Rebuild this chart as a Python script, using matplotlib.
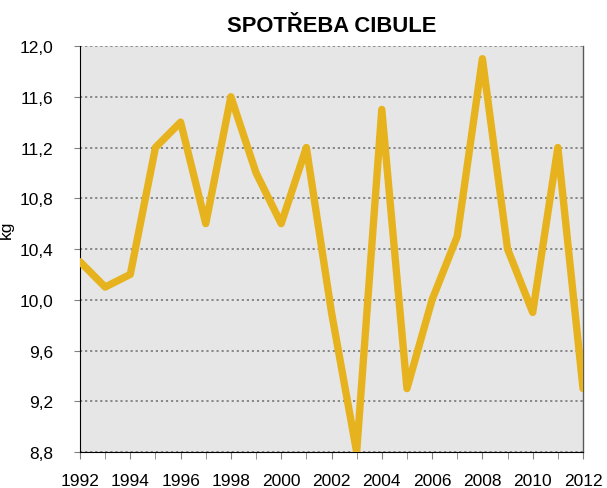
import matplotlib
matplotlib.use("Agg")
import matplotlib.pyplot as plt
from matplotlib.ticker import FixedLocator, FuncFormatter

years = list(range(1992, 2013))
values = [10.3, 10.1, 10.2, 11.2, 11.4, 10.6, 11.6, 11.0, 10.6, 11.2,
          9.9, 8.8, 11.5, 9.3, 10.0, 10.5, 11.9, 10.4, 9.9, 11.2, 9.3]
yticks = [8.8, 9.2, 9.6, 10.0, 10.4, 10.8, 11.2, 11.6, 12.0]
xticks = list(range(1992, 2013, 2))
title = "SPOTŘEBA CIBULE"
ylabel = "kg"

plt.rcParams['font.family'] = ['Liberation Sans', 'DejaVu Sans']

fig = plt.figure(figsize=(6.07, 4.89), dpi=100)
ax = fig.add_axes([80/607, 1-453/489, (583-80)/607, (453-47)/489])
ax.set_facecolor('#E6E6E6')
ax.plot(years, values, color='#E6B31E', linewidth=5.3, solid_joinstyle='round',
        solid_capstyle='round', zorder=3)
ax.set_xlim(1992, 2012)
ax.set_ylim(8.8, 12.0)
ax.set_yticks(yticks)
ax.yaxis.set_major_formatter(FuncFormatter(lambda v, p: f"{v:.1f}".replace('.', ',')))
ax.set_xticks(xticks)
ax.xaxis.set_minor_locator(FixedLocator(years))
ax.grid(axis='y', color='#808080', linestyle=(0, (1.2, 1.6)), linewidth=1.3, zorder=1)
ax.tick_params(axis='y', direction='out', length=4, color='#808080', labelsize=12.5, pad=15)
ax.tick_params(axis='x', which='both', direction='out', length=5, color='#808080', labelsize=12.5, pad=10)
ax.spines['top'].set_visible(False)
ax.spines['right'].set_color('#595959')
ax.spines['right'].set_linewidth(1.0)
ax.spines['left'].set_color('black')
ax.spines['bottom'].set_color('black')
ax.set_ylabel(ylabel, fontsize=12.5)
ax.yaxis.set_label_coords(-0.131, 0.55)
ax.set_title(title, fontsize=15.8, fontweight='bold', pad=11)
fig.savefig('out.png', dpi=100)
